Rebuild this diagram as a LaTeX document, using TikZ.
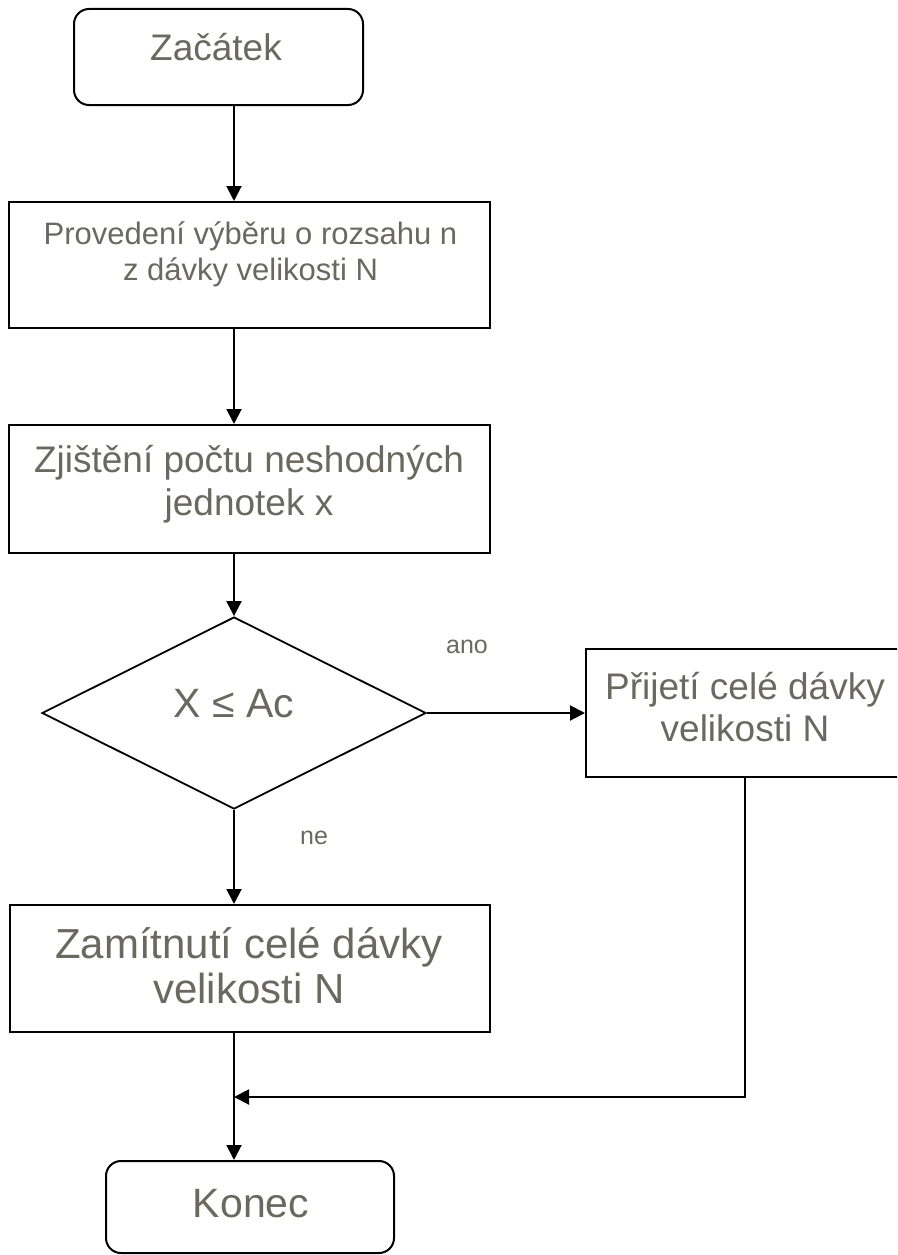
\documentclass[tikz,border=0pt]{standalone}
\usepackage{fontspec}
\setmainfont{Liberation Sans}
\usetikzlibrary{arrows.meta,shapes.geometric}
\definecolor{txtc}{RGB}{105,105,95}
\newcommand{\fsz}[2]{\fontsize{#1}{#2}\selectfont}
\begin{document}
\begin{tikzpicture}[x=1pt,y=-1pt,
  box/.style={draw, line width=2pt, inner sep=0pt},
  rbox/.style={box, rounded corners=15pt},
  dbox/.style={draw, line width=1.8pt, diamond, inner sep=0pt},
  txt/.style={text=txtc, align=center, inner sep=0pt, anchor=base},
  arr/.style={line width=2pt, -{Triangle[length=15pt,width=15pt]}},
  ln/.style={line width=2pt}]
\clip (0,0) rectangle (897,1255);
% shapes
\node[rbox, minimum width=289pt, minimum height=96pt] (start) at (218.5,57) {};
\node[box, minimum width=481pt, minimum height=126pt] (b2) at (249.5,265) {};
\node[box, minimum width=481pt, minimum height=128pt] (b3) at (249.5,489) {};
\node[dbox, minimum width=384pt, minimum height=192pt] (dia) at (234,713) {};
\node[box, minimum width=318pt, minimum height=128pt] (acc) at (745,713) {};
\node[box, minimum width=480pt, minimum height=127pt] (rej) at (250,968.5) {};
\node[rbox, minimum width=288pt, minimum height=92pt] (end) at (250,1207) {};
% texts (base anchor = baseline of the last line)
\node[txt, font=\fsz{37}{42.5}] (startt) at (216,60) {Začátek};
\node[txt, font=\fsz{31}{35.6}] (b2t) at (250.5,280) {Provedení výběru o rozsahu n\\z dávky velikosti N};
\node[txt, font=\fsz{37}{43}] (b3t) at (249,515) {Zjištění počtu neshodných\\jednotek x};
\node[txt, font=\fsz{41}{47}] (diat) at (234,717) {X ≤ Ac};
\node[txt, font=\fsz{37}{42.5}] (acct) at (745,741.5) {Přijetí celé dávky\\velikosti N};
\node[txt, font=\fsz{42}{45}] (rejt) at (249,1003) {Zamítnutí celé dávky\\velikosti N};
\node[txt, font=\fsz{41}{47}] (endt) at (251,1217) {Konec};
\node[txt, font=\fsz{25}{29}] (ano) at (467,653) {ano};
\node[txt, font=\fsz{25}{29}] (ne) at (314,844) {ne};
% connectors
\coordinate (merge) at (234,1097);
\draw[arr] (start.south -| dia.north) -- (b2.north -| dia.north);
\draw[arr] (b2.south -| dia.north) -- (b3.north -| dia.north);
\draw[arr] (b3.south -| dia.north) -- (dia.north);
\draw[arr] (dia.east) -- (acc.west);
\draw[arr] (dia.south) -- (rej.north -| dia.south);
\draw[arr] (rej.south -| dia.south) -- (end.north -| dia.south);
\draw[arr] (acc.south) |- (merge);
\end{tikzpicture}
\end{document}
